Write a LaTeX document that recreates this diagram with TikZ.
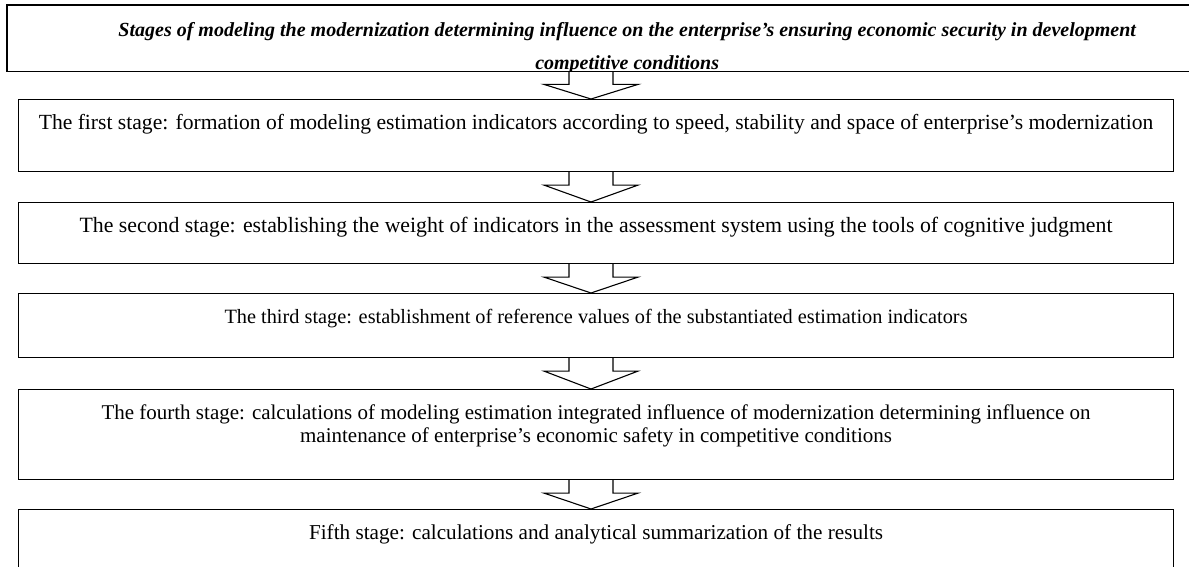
\documentclass[tikz,border=0pt]{standalone}
\usepackage{fontspec}
\setmainfont{Liberation Serif}
\usepackage{tikz}
\usetikzlibrary{calc}

\newcommand{\stagetext}[3]{\parbox[c][#1][t]{1155pt}{\centering\fontsize{#2}{23}\selectfont\rule{0pt}{30pt}#3}}

\begin{document}
\begin{tikzpicture}[x=1pt,y=-1pt,
    stagebox/.style={draw, line width=1.1pt, inner sep=0pt, anchor=north west},
    stagearrow/.style={draw, line width=1.1pt}]
  \useasboundingbox (0,0) rectangle (1189,566);
  \clip (0,0) rectangle (1189,566);

  % title, its second line cut by the frame
  \begin{scope}
    \clip (7,5) rectangle (1247,71);
    \node[inner sep=0pt, anchor=north west] (head) at (7,5) {\parbox[c][66pt][t]{1240pt}{\centering\fontsize{20}{22}\selectfont\bfseries\itshape\rule{0pt}{31pt}Stages of modeling the modernization determining influence on the enterprise’s ensuring economic security in development\\[11pt]competitive conditions}};
  \end{scope}
  \draw[line width=1.1pt] (head.north west) rectangle (head.south east);

  \node[stagebox] (first) at (18,99) {\stagetext{72pt}{21.6}{The first stage: formation of modeling estimation indicators according to speed, stability and space of enterprise’s modernization}};
  \node[stagebox] (second) at (18,202) {\stagetext{61pt}{21.8}{The second stage: establishing the weight of indicators in the assessment system using the tools of cognitive judgment}};
  \node[stagebox] (third) at (18,293) {\stagetext{64pt}{20.3}{The third stage: establishment of reference values of the substantiated estimation indicators}};
  \node[stagebox] (fourth) at (18,389) {\stagetext{90pt}{21}{The fourth stage: calculations of modeling estimation integrated influence of modernization determining influence on\\maintenance of enterprise’s economic safety in competitive conditions}};
  \node[stagebox] (fifth) at (18,509) {\stagetext{80pt}{21.2}{Fifth stage: calculations and analytical summarization of the results}};

  % block arrows between the stages
  \coordinate (ax) at (591,0);
  \foreach \a/\b in {head/first,first/second,second/third,third/fourth,fourth/fifth}
    \draw[stagearrow] let \p1=(ax |- \a.south), \p2=(ax |- \b.north) in
      (\x1-22pt,\y1) -- (\x1-22pt,\y1-13pt) -- (\x1-47pt,\y1-13pt) -- (\x2,\y2)
      -- (\x1+47pt,\y1-13pt) -- (\x1+22pt,\y1-13pt) -- (\x1+22pt,\y1);
\end{tikzpicture}
\end{document}
